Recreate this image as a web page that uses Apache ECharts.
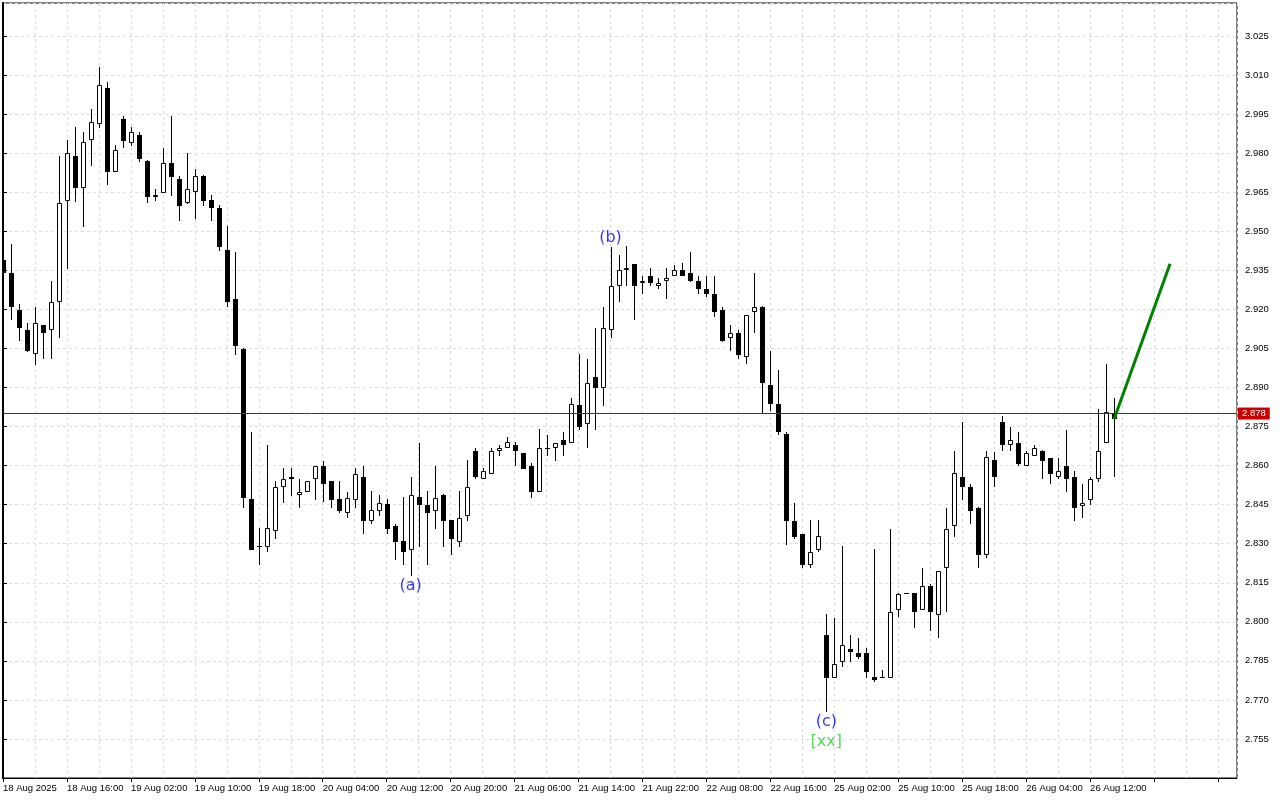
<!DOCTYPE html>
<html>
<head>
<meta charset="utf-8">
<script src="https://cdn.jsdelivr.net/npm/echarts@6/dist/echarts.min.js"></script>
<style>
html,body{margin:0;padding:0;background:#fff;}
#chart{width:1280px;height:800px;}
</style>
</head>
<body>
<div id="chart"></div>
<script>
// ---- data ----
const xLabels = ['18 Aug 2025','18 Aug 16:00','19 Aug 02:00','19 Aug 10:00','19 Aug 18:00','20 Aug 04:00','20 Aug 12:00','20 Aug 20:00','21 Aug 06:00','21 Aug 14:00','21 Aug 22:00','22 Aug 08:00','22 Aug 16:00','25 Aug 02:00','25 Aug 10:00','25 Aug 18:00','26 Aug 04:00','26 Aug 12:00'];
const labelEvery = 8;
const yLabels = ['3.025','3.010','2.995','2.980','2.965','2.950','2.935','2.920','2.905','2.890','2.875','2.860','2.845','2.830','2.815','2.800','2.785','2.770','2.755'];

const opens = [2.9391,2.9340,2.9199,2.9122,2.9029,2.9140,2.9121,2.9228,2.9618,2.9789,
2.9668,2.9850,2.9911,3.0049,2.9729,2.9930,2.9841,2.9870,2.9770,2.9630,
2.9649,2.9763,2.9701,2.9608,2.9650,2.9713,2.9621,2.9591,2.9429,2.9241,
2.9049,2.8470,2.8288,2.8287,2.8348,2.8519,2.8558,2.8488,2.8500,2.8550,
2.8599,2.8539,2.8470,2.8419,2.8469,2.8557,2.8387,2.8425,2.8451,2.8369,
2.8309,2.8277,2.8478,2.8450,2.8427,2.8488,2.8390,2.8308,2.8408,2.8657,
2.8550,2.8569,2.8657,2.8668,2.8681,2.8649,2.8600,2.8498,2.8667,2.8668,
2.8699,2.8687,2.8831,2.8760,2.8942,2.8897,2.9122,2.9288,2.9351,2.9373,
2.9301,2.9329,2.9291,2.9310,2.9329,2.9351,2.9341,2.9309,2.9278,2.9259,
2.9199,2.9089,2.9111,2.9016,2.9190,2.9210,2.8911,2.8838,2.8721,2.8388,
2.8337,2.8218,2.8277,2.7948,2.7786,2.7847,2.7897,2.7879,2.7879,2.7787,
2.7786,2.7786,2.8047,2.8107,2.8109,2.8047,2.8139,2.8028,2.8207,2.8368,
2.8558,2.8519,2.8439,2.8256,2.8620,2.8768,2.8678,2.8686,2.8599,2.8638,
2.8658,2.8630,2.8555,2.8597,2.8555,2.8446,2.8469,2.8550,2.8686,2.8798];

const highs = [2.9450,2.9452,2.9221,2.9148,2.9209,2.9142,2.9310,2.9789,2.9851,2.9901,
2.9883,2.9970,3.0132,3.0074,2.9831,2.9943,2.9900,2.9881,2.9772,2.9663,
2.9819,2.9944,2.9712,2.9802,2.9740,2.9715,2.9639,2.9602,2.9521,2.9421,
2.9051,2.8730,2.8359,2.8681,2.8539,2.8589,2.8589,2.8550,2.8540,2.8600,
2.8619,2.8540,2.8539,2.8500,2.8589,2.8599,2.8502,2.8489,2.8470,2.8377,
2.8478,2.8558,2.8688,2.8502,2.8599,2.8490,2.8392,2.8502,2.8620,2.8668,
2.8589,2.8668,2.8681,2.8711,2.8689,2.8650,2.8611,2.8739,2.8716,2.8688,
2.8731,2.8860,2.9030,2.9011,2.9129,2.9210,2.9439,2.9410,2.9442,2.9375,
2.9329,2.9358,2.9321,2.9360,2.9370,2.9379,2.9421,2.9329,2.9329,2.9329,
2.9210,2.9141,2.9120,2.9180,2.9340,2.9212,2.9042,2.8969,2.8730,2.8457,
2.8339,2.8390,2.8390,2.8029,2.8016,2.8291,2.7948,2.7937,2.7899,2.8278,
2.7816,2.8358,2.8110,2.8110,2.8111,2.8208,2.8144,2.8197,2.8438,2.8658,
2.8768,2.8530,2.8441,2.8658,2.8652,2.8790,2.8749,2.8730,2.8658,2.8681,
2.8660,2.8631,2.8630,2.8738,2.8581,2.8531,2.8558,2.8818,2.8991,2.8861];

const lows = [2.9280,2.9158,2.9077,2.9036,2.8988,2.9010,2.9010,2.9090,2.9356,2.9612,
2.9518,2.9749,2.9898,2.9678,2.9727,2.9819,2.9828,2.9767,2.9607,2.9617,
2.9647,2.9637,2.9538,2.9606,2.9549,2.9599,2.9538,2.9426,2.9208,2.9026,
2.8437,2.8274,2.8218,2.8268,2.8319,2.8456,2.8485,2.8436,2.8499,2.8467,
2.8460,2.8436,2.8417,2.8398,2.8436,2.8337,2.8377,2.8406,2.8337,2.8239,
2.8218,2.8176,2.8287,2.8218,2.8356,2.8287,2.8258,2.8287,2.8387,2.8547,
2.8549,2.8568,2.8636,2.8667,2.8598,2.8587,2.8477,2.8497,2.8636,2.8617,
2.8636,2.8686,2.8736,2.8668,2.8736,2.8830,2.9089,2.9227,2.9288,2.9161,
2.9259,2.9288,2.9278,2.9240,2.9328,2.9328,2.9307,2.9259,2.9247,2.9169,
2.9075,2.9039,2.9010,2.8989,2.9110,2.8799,2.8809,2.8717,2.8295,2.8319,
2.8208,2.8208,2.8269,2.7652,2.7784,2.7827,2.7846,2.7856,2.7786,2.7767,
2.7785,2.7785,2.8017,2.8106,2.7975,2.8045,2.7965,2.7936,2.8038,2.8327,
2.8467,2.8374,2.8207,2.8245,2.8517,2.8655,2.8655,2.8598,2.8598,2.8637,
2.8547,2.8528,2.8547,2.8498,2.8387,2.8400,2.8448,2.8538,2.8685,2.8556];

const closes = [2.9341,2.9209,2.9127,2.9039,2.9148,2.9110,2.9228,2.9608,2.9800,2.9668,
2.9842,2.9919,3.0061,2.9729,2.9812,2.9848,2.9881,2.9779,2.9630,2.9640,
2.9763,2.9710,2.9599,2.9662,2.9712,2.9618,2.9588,2.9438,2.9227,2.9058,
2.8475,2.8276,2.8290,2.8359,2.8519,2.8550,2.8548,2.8500,2.8539,2.8599,
2.8529,2.8467,2.8425,2.8477,2.8569,2.8387,2.8428,2.8457,2.8356,2.8306,
2.8268,2.8488,2.8448,2.8418,2.8477,2.8387,2.8319,2.8400,2.8519,2.8556,
2.8580,2.8658,2.8668,2.8689,2.8657,2.8588,2.8498,2.8668,2.8669,2.8687,
2.8678,2.8838,2.8748,2.8918,2.8897,2.9129,2.9288,2.9351,2.9359,2.9288,
2.9310,2.9301,2.9301,2.9321,2.9351,2.9329,2.9309,2.9278,2.9259,2.9190,
2.9077,2.9110,2.9026,2.9179,2.9209,2.8916,2.8835,2.8728,2.8387,2.8326,
2.8218,2.8269,2.8328,2.7786,2.7837,2.7909,2.7884,2.7865,2.7808,2.7777,
2.7787,2.8039,2.8108,2.8109,2.8038,2.8139,2.8038,2.8195,2.8358,2.8570,
2.8517,2.8425,2.8256,2.8632,2.8556,2.8678,2.8699,2.8606,2.8649,2.8668,
2.8617,2.8567,2.8581,2.8550,2.8436,2.8455,2.8550,2.8657,2.8807,2.8779];

const currentPrice = 2.878;
const projBars = [139, 146];
const projPrices = [2.8779, 2.9375];

const annoText = ['(a)', '(b)', '(c)', '[xx]'];
const annoBar = [51, 76, 103, 103];
const annoPrice = [2.8140, 2.9475, 2.7615, 2.7538];
const annoColor = ['#0000ff', '#0000ff', '#0000ff', '#32cd32'];

// ---- build ----
const candleData = opens.map((o, i) => [i, o, highs[i], lows[i], closes[i]]);
const projData = projBars.map((b, i) => [b, projPrices[i]]);
const annoData = annoText.map((t, i) => ({
  value: [annoBar[i], annoPrice[i]],
  label: { formatter: t, color: annoColor[i] }
}));

const XMAX = 154.375;
const gridLine = { show: true, lineStyle: { color: '#dcdcdc', type: [3, 3], width: 1 } };
const labelFont = { fontFamily: 'Liberation Sans', fontSize: 9.5, color: '#000' };

function renderCandle(params, api) {
  const i = api.value(0), o = api.value(1), h = api.value(2), l = api.value(3), c = api.value(4);
  const pO = api.coord([i, o]), pC = api.coord([i, c]);
  const pH = api.coord([i, h]), pL = api.coord([i, l]);
  const x = Math.round(pO[0]);
  let top = Math.round(Math.min(pO[1], pC[1]));
  let bot = Math.round(Math.max(pO[1], pC[1]));
  const yH = Math.round(pH[1]), yL = Math.round(pL[1]);
  const children = [{
    type: 'line',
    shape: { x1: x + 0.5, y1: yH, x2: x + 0.5, y2: Math.max(yL, yH + 1) },
    style: { stroke: '#000', lineWidth: 1 }
  }];
  if (bot - top <= 1) {
    children.push({ type: 'rect', shape: { x: x - 2, y: top, width: 5, height: 1 }, style: { fill: '#000' } });
  } else if (c >= o) {
    children.push({
      type: 'rect',
      shape: { x: x - 1.5, y: top + 0.5, width: 4, height: bot - top - 1 },
      style: { fill: '#fff', stroke: '#000', lineWidth: 1 }
    });
  } else {
    children.push({ type: 'rect', shape: { x: x - 2, y: top, width: 5, height: bot - top }, style: { fill: '#000' } });
  }
  return { type: 'group', children: children };
}

const chart = echarts.init(document.getElementById('chart'), null, { renderer: 'canvas' });
chart.setOption({
  animation: false,
  backgroundColor: '#ffffff',
  grid: { left: 2, right: 43, top: 3, bottom: 22, show: true, borderColor: '#000', borderWidth: 1, backgroundColor: '#fff' },
  xAxis: [
    {
      type: 'value', position: 'bottom', min: 0, max: XMAX, interval: 4,
      axisLine: { show: false }, axisTick: { show: false }, axisLabel: { show: false },
      splitLine: gridLine
    },
    {
      type: 'value', position: 'bottom', min: 0, max: XMAX, interval: labelEvery,
      axisLine: { show: true, lineStyle: { color: '#000', width: 1 } },
      axisTick: { show: true, length: 4, lineStyle: { color: '#000' } },
      splitLine: { show: false },
      axisLabel: Object.assign({
        align: 'left', margin: 5, showMaxLabel: false,
        formatter: function (v) {
          const k = v / labelEvery;
          if (Math.abs(k - Math.round(k)) > 1e-6) return '';
          return xLabels[Math.round(k)] || '';
        }
      }, labelFont)
    }
  ],
  yAxis: {
    type: 'value', position: 'right', min: 2.740, max: 3.0377, interval: 0.015,
    axisLine: { show: true, lineStyle: { color: '#000', width: 2 } },
    axisTick: { show: true, length: 4, lineStyle: { color: '#000' } },
    splitLine: gridLine,
    axisLabel: Object.assign({
      margin: 8, showMinLabel: true, showMaxLabel: false,
      formatter: function (v) {
        const s = v.toFixed(3);
        return yLabels.indexOf(s) >= 0 ? s : '';
      }
    }, labelFont)
  },
  series: [
    {
      type: 'custom',
      name: 'candles',
      xAxisIndex: 0, yAxisIndex: 0,
      clip: true,
      z: 3,
      renderItem: renderCandle,
      encode: { x: 0, y: [1, 2, 3, 4] },
      data: candleData
    },
    {
      type: 'line',
      name: 'projection',
      xAxisIndex: 0, yAxisIndex: 0,
      data: projData,
      symbol: 'none',
      z: 4,
      lineStyle: { color: '#008000', width: 3 },
      markLine: {
        silent: true,
        symbol: ['none', 'none'],
        animation: false,
        lineStyle: { color: '#c00000', width: 1, type: 'solid' },
        label: {
          show: true, position: 'end', distance: 1,
          formatter: currentPrice.toFixed(3),
          backgroundColor: '#c80000', color: '#fff',
          fontFamily: 'Liberation Sans', fontSize: 9.5,
          padding: [1, 4, 1, 4]
        },
        data: [{ yAxis: currentPrice }]
      }
    },
    {
      type: 'scatter',
      name: 'waves',
      xAxisIndex: 0, yAxisIndex: 0,
      symbolSize: 0,
      z: 5,
      label: { show: true, position: 'inside', fontFamily: 'DejaVu Sans', fontSize: 16 },
      data: annoData
    }
  ]
});
</script>
</body>
</html>
